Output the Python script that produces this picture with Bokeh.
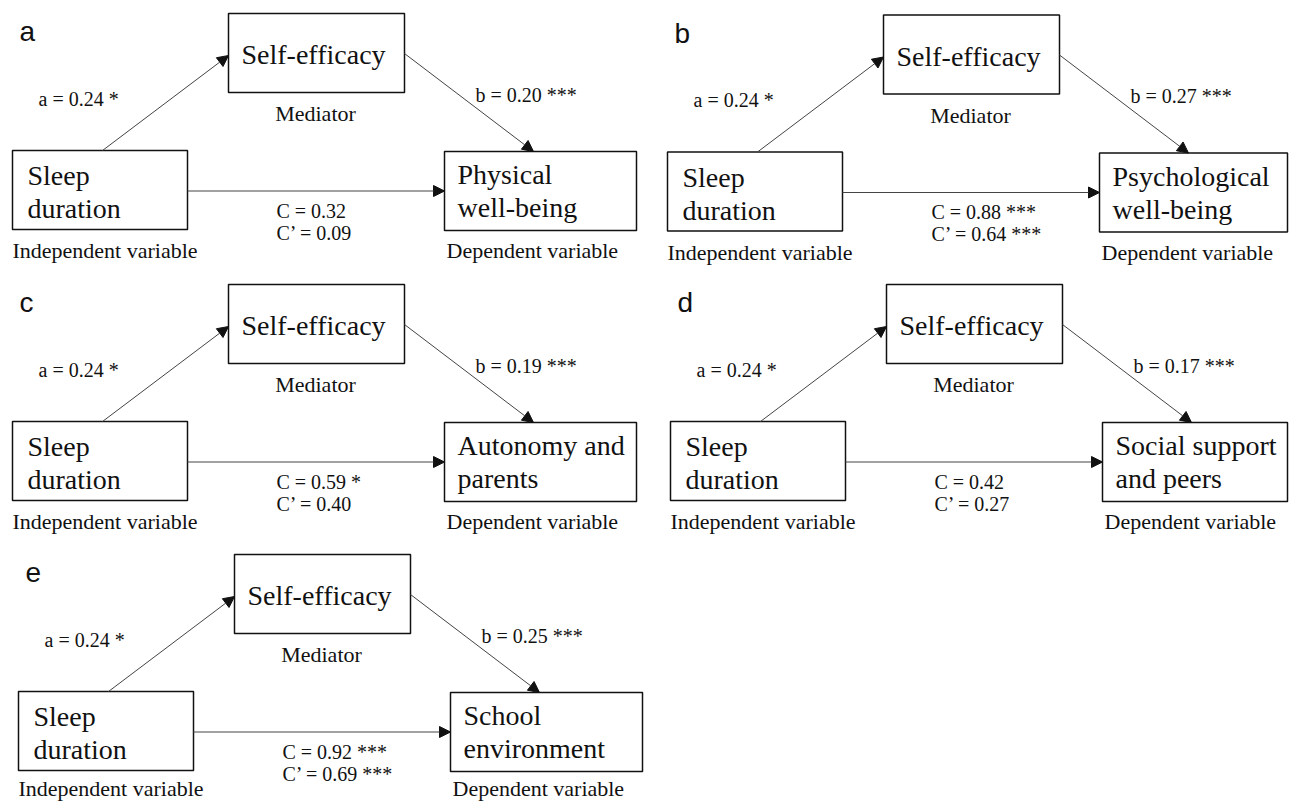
from bokeh.plotting import figure
from bokeh.models import Range1d, ColumnDataSource, Arrow, NormalHead
from bokeh.core.properties import value
from bokeh.embed import file_html
from bokeh.resources import INLINE

# ---------------- data ----------------
panel_letters = ["a", "b", "c", "d", "e"]
mediator_name = "Self-efficacy"
predictor_line1 = "Sleep"
predictor_line2 = "duration"
outcome_line1 = ["Physical", "Psychological", "Autonomy and", "Social support", "School"]
outcome_line2 = ["well-being", "well-being", "parents", "and peers", "environment"]
a_coef = [0.24, 0.24, 0.24, 0.24, 0.24]
a_sig = ["*", "*", "*", "*", "*"]
b_coef = [0.20, 0.27, 0.19, 0.17, 0.25]
b_sig = ["***", "***", "***", "***", "***"]
c_coef = [0.32, 0.88, 0.59, 0.42, 0.92]
c_sig = ["", "***", "*", "", "***"]
cp_coef = [0.09, 0.64, 0.40, 0.27, 0.69]
cp_sig = ["", "***", "", "", "***"]
role_iv = "Independent variable"
role_med = "Mediator"
role_dv = "Dependent variable"

# ---------------- layout (page pixels) ----------------
W, H = 1290, 801
panel_dx = [0, 655, 0, 658, 6]
panel_dy = [0, 1.5, 271, 271, 541]
IV = dict(l=12, r=187, t=150, b=229)
MED = dict(l=228, r=404, t=13, b=92)
DV = dict(l=444, r=636, t=151, b=230)
X_MAX = 1287
Y_TEXT_MAX = 788

SERIF = value("Liberation Serif")
SANS = value("Liberation Sans")
TXT = "#111111"


def fmt(name, v, s):
    return (f"{name} = {v:.2f} {s}").strip()


p = figure(width=W, height=H, x_range=Range1d(0, W), y_range=Range1d(H, 0),
           output_backend="svg", toolbar_location=None, min_border=0,
           x_axis_location=None, y_axis_location=None, background_fill_color="white",
           border_fill_color="white")
p.grid.visible = False
p.outline_line_color = None

boxes = dict(left=[], right=[], top=[], bottom=[])
arrows = dict(x0=[], y0=[], x1=[], y1=[])
kinds = ["box", "coef", "role", "rolec", "letter"]
texts = {k: dict(x=[], y=[], t=[]) for k in kinds}


def add_text(kind, x, y, t):
    texts[kind]["x"].append(x)
    texts[kind]["y"].append(min(y, Y_TEXT_MAX))
    texts[kind]["t"].append(t)


for i in range(5):
    dx, dy = panel_dx[i], panel_dy[i]
    iv = dict(l=IV["l"] + dx, r=IV["r"] + dx, t=IV["t"] + dy, b=IV["b"] + dy)
    md = dict(l=MED["l"] + dx, r=MED["r"] + dx, t=MED["t"] + dy, b=MED["b"] + dy)
    dv = dict(l=DV["l"] + dx, r=min(DV["r"] + dx, X_MAX), t=DV["t"] + dy, b=DV["b"] + dy)
    for bx in (iv, md, dv):
        boxes["left"].append(bx["l"]); boxes["right"].append(bx["r"])
        boxes["top"].append(bx["t"]); boxes["bottom"].append(bx["b"])
    # arrows: a path, b path, c path
    ymid = (iv["t"] + iv["b"]) / 2 + 1
    arrows["x0"] += [iv["l"] + 90, md["r"], iv["r"]]
    arrows["y0"] += [iv["t"], md["t"] + 40, ymid]
    arrows["x1"] += [md["l"], dv["l"] + 89, dv["l"]]
    arrows["y1"] += [md["t"] + 42, dv["t"], ymid]
    # box texts (vertical centres)
    add_text("box", md["l"] + 13, md["t"] + 41, mediator_name)
    add_text("box", iv["l"] + 15, iv["t"] + 25, predictor_line1)
    add_text("box", iv["l"] + 15, iv["t"] + 58, predictor_line2)
    add_text("box", dv["l"] + 13, dv["t"] + 23, outcome_line1[i])
    add_text("box", dv["l"] + 13, dv["t"] + 56, outcome_line2[i])
    # coefficients
    add_text("coef", 38 + dx, 98 + dy, fmt("a", a_coef[i], a_sig[i]))
    add_text("coef", 475 + dx, 94 + dy, fmt("b", b_coef[i], b_sig[i]))
    add_text("coef", 276 + dx, 210 + dy, fmt("C", c_coef[i], c_sig[i]))
    add_text("coef", 276 + dx, 232 + dy, fmt("C\u2019", cp_coef[i], cp_sig[i]))
    # roles
    add_text("role", iv["l"], 250 + dy, role_iv)
    add_text("rolec", (md["l"] + md["r"]) / 2 - 1, 113 + dy, role_med)
    add_text("role", dv["l"] + 2, 250 + dy, role_dv)
    # panel letter
    add_text("letter", iv["l"] + 7, 31 + dy, panel_letters[i])

p.quad(left=boxes["left"], right=boxes["right"], top=boxes["top"], bottom=boxes["bottom"],
       fill_color=None, line_color="#111111", line_width=1.5)

asrc = ColumnDataSource(arrows)
p.add_layout(Arrow(end=NormalHead(size=11, fill_color="#111111", line_color="#111111", line_width=1),
                   x_start="x0", y_start="y0", x_end="x1", y_end="y1", source=asrc,
                   line_color="#444444", line_width=1))

styles = {
    "box": dict(font=SERIF, size="28px", align="left"),
    "coef": dict(font=SERIF, size="20px", align="left"),
    "role": dict(font=SERIF, size="22px", align="left"),
    "rolec": dict(font=SERIF, size="22px", align="center"),
    "letter": dict(font=SANS, size="28px", align="left"),
}
for k, st in styles.items():
    src = ColumnDataSource(dict(x=texts[k]["x"], y=texts[k]["y"], t=texts[k]["t"]))
    p.text(x="x", y="y", text="t", source=src, text_font=st["font"], text_font_size=st["size"],
           text_color=TXT, text_align=st["align"], text_baseline="middle")

open("out.html", "w").write(file_html(p, INLINE))
